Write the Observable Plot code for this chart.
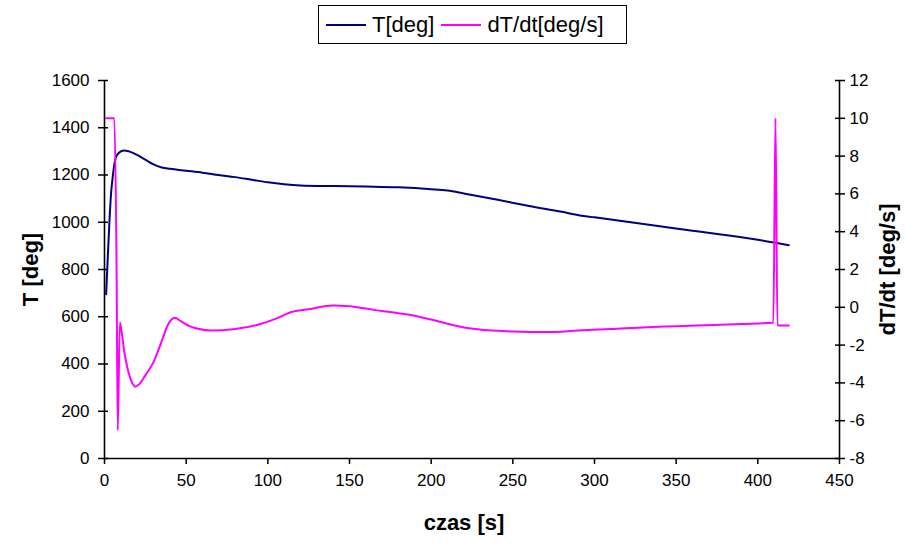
<!DOCTYPE html>
<html>
<head>
<meta charset="utf-8">
<script src="https://cdn.jsdelivr.net/npm/d3@7"></script>
<script src="https://cdn.jsdelivr.net/npm/@observablehq/plot@0.6"></script>
<style>
  html, body { margin: 0; padding: 0; background: #fff; }
  #wrap { position: relative; width: 906px; height: 547px; font-family: "Liberation Sans", Arial, sans-serif; }
  #legend { position: absolute; left: 318px; top: 5px; width: 309px; height: 39px; border: 1.5px solid #000; box-sizing: border-box; background: #fff; display: flex; align-items: center; font-size: 22px; color: #000; z-index: 2; }
  .item { display: flex; align-items: center; }
  .sw { width: 40px; height: 0; border-top: 2px solid; margin-left: 7px; margin-right: 6px; }
</style>
</head>
<body>
<div id="wrap">
  <div id="legend"></div>
  <div id="chart"></div>
</div>
<script>
// ---- data ----
const seriesNames = ["T[deg]", "dT/dt[deg/s]"];
const seriesColors = ["#000080", "#FF00FF"];

const tTime = [1,2,3,4,5,6,7,9,12,15,20,25,30,35,40,50,60,70,80,90,100,110,120,140,160,180,200,210,220,240,260,280,291,300,320,340,360,373,380,400,419];
const tValues = [695,850,1000,1120,1190,1245,1275,1295,1304,1300,1285,1265,1245,1232,1226,1218,1210,1200,1191,1180,1169,1161,1156,1153,1151,1148,1140,1134,1122,1096,1069,1044,1029,1021,1002,983,964,952,946,926,903];

const dTime = [1,6,7.4,8.1,9.4,10.5,12,14,16,19,22,25,30,35,39,43,47,52,58,65,80,95,105,114,125,140,150,161,170,179,189,200,210,222,235,250,271,290,310,332,350,373,390,409.5,410.8,412,419];
const dValues = [10,10,2,-6.5,-0.8,-1.3,-2.3,-3.2,-3.8,-4.2,-4.0,-3.6,-2.9,-1.8,-0.9,-0.55,-0.75,-1.0,-1.15,-1.23,-1.15,-0.9,-0.6,-0.26,-0.1,0.1,0.05,-0.08,-0.2,-0.3,-0.43,-0.65,-0.87,-1.1,-1.22,-1.28,-1.31,-1.23,-1.15,-1.05,-1.0,-0.93,-0.88,-0.82,10,-0.96,-0.96];

const xTicks = [0,50,100,150,200,250,300,350,400,450];
const leftTicks = [0,200,400,600,800,1000,1200,1400,1600];
const rightTicks = [-8,-6,-4,-2,0,2,4,6,8,10,12];

const xTitle = "czas [s]";
const leftTitle = "T [deg]";
const rightTitle = "dT/dt [deg/s]";

// ---- build ----
const tData = tTime.map((t, i) => ({t, v: tValues[i]}));
const dData = dTime.map((t, i) => ({t, v: dValues[i]}));
// right axis (-8..12) mapped onto left scale (0..1600)
const toLeft = v => (v + 8) * 80;
const rightTickPos = rightTicks.map(toLeft);

const font = "Liberation Sans, Arial, sans-serif";
const plain = d => String(d);

const chart = Plot.plot({
  width: 906,
  height: 547,
  marginLeft: 104,
  marginRight: 67,
  marginTop: 80,
  marginBottom: 89,
  style: {fontFamily: font, fontSize: "17px", color: "#000", background: "#fff"},
  x: {domain: [0, 450]},
  y: {domain: [0, 1600]},
  marks: [
    // axis lines
    Plot.ruleX([0], {stroke: "#000", strokeWidth: 1.6}),
    Plot.ruleX([450], {stroke: "#000", strokeWidth: 1.6}),
    Plot.ruleY([0], {stroke: "#000", strokeWidth: 1.6}),
    // left axis: labels + crossing ticks
    Plot.axisY(leftTicks, {anchor: "left", tickSize: 0, tickPadding: 15, label: null, fontSize: 17, tickFormat: plain}),
    Plot.axisY(leftTicks, {anchor: "left", tickSize: 10, dx: 4, tickFormat: () => "", label: null, strokeWidth: 1.5}),
    // right axis
    Plot.axisY(rightTickPos, {anchor: "right", tickSize: 0, tickPadding: 10, label: null, fontSize: 17, tickFormat: d => String(Math.round(d / 80 - 8))}),
    Plot.axisY(rightTickPos, {anchor: "right", tickSize: 10, dx: -5, tickFormat: () => "", label: null, strokeWidth: 1.5}),
    // bottom axis
    Plot.axisX(xTicks, {anchor: "bottom", tickSize: 6, tickPadding: 9, label: null, fontSize: 17, strokeWidth: 1.5, tickFormat: plain}),
    // series
    Plot.line(tData, {x: "t", y: "v", stroke: seriesColors[0], strokeWidth: 2, curve: "monotone-x"}),
    Plot.line(dData, {x: "t", y: d => toLeft(d.v), stroke: seriesColors[1], strokeWidth: 2, curve: "monotone-x"}),
    // titles
    Plot.text([leftTitle], {frameAnchor: "left", dx: -74, rotate: -90, textAnchor: "middle", fontSize: 22, fontWeight: "bold"}),
    Plot.text([rightTitle], {frameAnchor: "right", dx: 48, rotate: -90, textAnchor: "middle", fontSize: 22, fontWeight: "bold"}),
    Plot.text([xTitle], {frameAnchor: "bottom", dx: -8, dy: 71, textAnchor: "middle", fontSize: 22, fontWeight: "bold"})
  ]
});
document.getElementById("chart").appendChild(chart);

// legend
const legend = document.getElementById("legend");
seriesNames.forEach((name, i) => {
  const item = document.createElement("div");
  item.className = "item";
  const sw = document.createElement("span");
  sw.className = "sw";
  sw.style.borderTopColor = seriesColors[i];
  const lab = document.createElement("span");
  lab.textContent = name;
  item.appendChild(sw);
  item.appendChild(lab);
  legend.appendChild(item);
});
</script>
</body>
</html>
